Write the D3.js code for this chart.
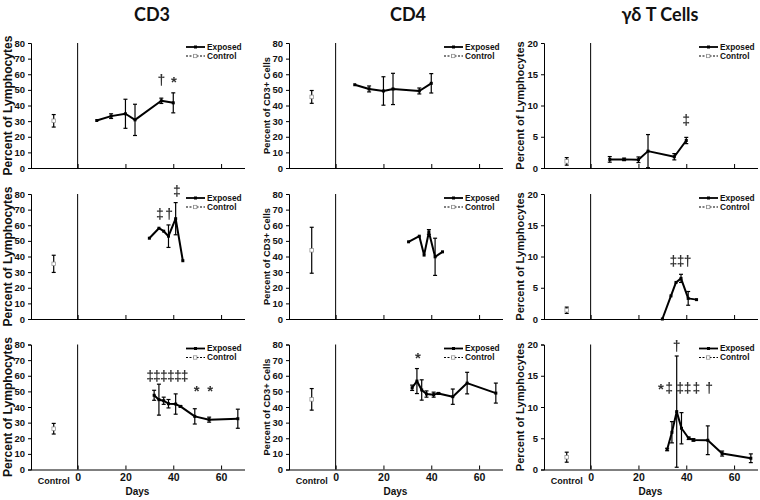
<!DOCTYPE html>
<html><head><meta charset="utf-8">
<script src="https://cdn.jsdelivr.net/npm/d3@7"></script>
<style>
html,body{margin:0;padding:0;background:#fff;}
svg text{font-family:"Liberation Sans",Arial,sans-serif;}
</style></head>
<body><svg id="c" width="760" height="500"></svg>
<script>
// ---------- DATA ----------
const columnTitles = ["CD3", "CD4", "γδ T Cells"];
const yLabels = ["Percent of Lymphocytes", "Percent of CD3+ Cells", "Percent of Lymphocytes"];
const yMaxes = [80, 80, 20];
const yTicksCD = [0, 10, 20, 30, 40, 50, 60, 70, 80];
const yTicksGD = [0, 5, 10, 15, 20];
const xTicks = [0, 20, 40, 60];
const xTickLabels = ["0", "20", "40", "60"];
const controlDay = -10;
const controlLabel = "Control";
const xAxisTitle = "Days";
const legendLabels = ["Exposed", "Control"];

// row 1
const r1Days = [8, 14, 20, 24, 35, 40];
const cd3r1Mean = [30.4, 33.2, 34.7, 30.8, 43.0, 41.7];
const cd3r1Err  = [0, 1.5, 9.3, 10, 1.7, 6.4];
const cd4r1Mean = [53.3, 50.6, 49.3, 50.6, 49.3, 54.2];
const cd4r1Err  = [0, 1.9, 9.1, 10, 1.9, 6.2];
const gdr1Mean  = [1.38, 1.38, 1.32, 2.7, 1.8, 4.4];
const gdr1Err   = [0.45, 0.2, 0.45, 2.65, 0.5, 0.5];
// row 2
const cd3r2Days = [30, 34, 36, 38, 41, 44];
const cd3r2Mean = [51.7, 58.1, 56.2, 53.0, 64.2, 37.3];
const cd3r2Err  = [0, 0, 0, 7.2, 10.3, 0];
const cd4r2Days = [30.5, 35, 37, 39, 41.6, 44.7];
const cd4r2Mean = [49.4, 53.0, 40.9, 55.7, 39.8, 43.0];
const cd4r2Err  = [0, 0, 0, 1.5, 11.9, 0];
const gdr2Days  = [30, 33.6, 35.7, 37.8, 40.8, 44.3];
const gdr2Mean  = [0, 3.7, 5.85, 6.5, 3.3, 3.1];
const gdr2Err   = [0, 0, 0, 0.65, 1.1, 0];
// row 3
const r3Days = [32, 34, 36, 38, 41, 43, 49, 55, 67];
const cd3r3Mean = [47.5, 44.7, 44.0, 42.1, 41.9, 40.4, 34.0, 31.9, 32.5];
const cd3r3Err  = [3.2, 9.9, 2.3, 2.7, 6.5, 0.5, 4.9, 1.6, 6.1];
const cd4r3Mean = [52.3, 56.6, 50.9, 48.3, 47.9, 48.7, 46.6, 55.3, 48.9];
const cd4r3Err  = [1.7, 8.0, 6.5, 2.0, 1.6, 0.5, 4.9, 6.9, 6.4];
const gdr3Mean  = [3.2, 5.96, 9.26, 6.6, 5.0, 4.73, 4.68, 2.55, 1.8];
const gdr3Err   = [0.2, 1.7, 8.9, 2.5, 0.2, 0.2, 2.3, 0.4, 0.7];
// controls [mean, err] per panel, row-major
const controlMeans = [30.2, 45.5, 1.06, 35.3, 44.0, 1.4, 26.1, 44.9, 1.97];
const controlErrs  = [4.0, 4.1, 0.6, 5.5, 14.7, 0.5, 3.4, 6.9, 0.8];
// significance marks: [day, value, symbol]
const marksA = [[35, 56, "†"], [40.3, 55.5, "*"]];
const marksB = [];
const marksC = [[40, 7.7, "‡"]];
const marksD = [[34.4, 67.4, "‡"], [38.3, 67.4, "†"], [41.5, 82, "‡"]];
const marksE = [];
const marksF = [[34.6, 9.3, "‡"], [37.6, 9.3, "‡"], [40.6, 9.3, "†"]];
const marksG = [[30.3, 59.9, "‡"], [33.2, 59.9, "‡"], [36.1, 59.9, "‡"], [39.0, 59.9, "‡"], [41.9, 59.9, "‡"], [44.8, 59.9, "‡"], [49.8, 50.5, "*"], [55.4, 50.5, "*"]];
const marksH = [[34.4, 71.7, "*"]];
const marksI = [[36, 19.8, "†"], [29.4, 13, "*"], [32.8, 13, "‡"], [37.4, 13, "‡"], [40.6, 13, "‡"], [44.2, 13, "‡"], [49.6, 13, "†"]];

// ---------- LAYOUT ----------
const svg = d3.select("#c");
const colLeft = [31, 289, 544];
const colWidth = 214;
const rowTop = [43, 194, 344.5];
const rowH = 125;
const xDomain = [-19.5, 70];
const yLabelX = [8, 266, 520];
const yLabelSize = [12.1, 9.3, 11.1];
const titleX = [152, 408, 660];

// grayscale filter for thin glyphs
const defs = svg.append("defs");
const flt = defs.append("filter").attr("id", "gray").attr("x", "-20%").attr("y", "-20%").attr("width", "140%").attr("height", "140%");
flt.append("feColorMatrix").attr("type", "saturate").attr("values", 0);

const panels = [
  {days: r1Days, mean: cd3r1Mean, err: cd3r1Err, marks: marksA},
  {days: r1Days, mean: cd4r1Mean, err: cd4r1Err, marks: marksB},
  {days: r1Days, mean: gdr1Mean, err: gdr1Err, marks: marksC},
  {days: cd3r2Days, mean: cd3r2Mean, err: cd3r2Err, marks: marksD},
  {days: cd4r2Days, mean: cd4r2Mean, err: cd4r2Err, marks: marksE},
  {days: gdr2Days, mean: gdr2Mean, err: gdr2Err, marks: marksF},
  {days: r3Days, mean: cd3r3Mean, err: cd3r3Err, marks: marksG},
  {days: r3Days, mean: cd4r3Mean, err: cd4r3Err, marks: marksH},
  {days: r3Days, mean: gdr3Mean, err: gdr3Err, marks: marksI}
];

// titles
columnTitles.forEach((t, i) => {
  svg.append("text").attr("x", titleX[i]).attr("y", 21).attr("text-anchor", "middle")
    .style("font-family", "Lato, 'Open Sans', sans-serif").style("font-weight", "bold")
    .style("font-size", "18px").style("fill", "#111").text(t);
});

panels.forEach((p, idx) => {
  const row = Math.floor(idx / 3), col = idx % 3;
  const L = colLeft[col], T = rowTop[row];
  const x = d3.scaleLinear().domain(xDomain).range([L, L + colWidth]);
  const y = d3.scaleLinear().domain([0, yMaxes[col]]).range([T + rowH, T]);
  const g = svg.append("g");

  // y axis
  const yAxis = d3.axisLeft(y).tickValues(col === 2 ? yTicksGD : yTicksCD).tickSize(3).tickPadding(3);
  const ya = g.append("g").attr("transform", `translate(${L},0)`).call(yAxis);
  ya.select(".domain").attr("stroke", "#000").attr("stroke-width", 1);
  ya.selectAll("text").style("font-size", "9.5px").style("font-weight", "bold").style("fill", "#111");

  // x axis
  const xAxis = d3.axisBottom(x).tickValues(xTicks).tickSize(-4).tickFormat((d, i) => row === 2 ? xTickLabels[i] : "");
  const xa = g.append("g").attr("transform", `translate(0,${T + rowH})`).call(xAxis);
  xa.select(".domain").attr("stroke", "#000").attr("d", `M${L},0.5H${L + colWidth}`);
  xa.selectAll("text").attr("dy", "8px").style("font-size", "10.5px").style("font-weight", "bold").style("fill", "#111");
  // day 0 divider
  g.append("line").attr("x1", x(0)).attr("x2", x(0)).attr("y1", y(yMaxes[col])).attr("y2", y(0))
    .attr("stroke", "#000").attr("stroke-width", 1);

  if (row === 2) {
    g.append("text").attr("x", x(controlDay)).attr("y", T + rowH + 14).attr("text-anchor", "middle")
      .style("font-size", "9px").style("font-weight", "bold").style("fill", "#111").text(controlLabel);
    g.append("text").attr("x", x(25)).attr("y", T + rowH + 25).attr("text-anchor", "middle")
      .style("font-size", "10px").style("font-weight", "bold").style("fill", "#111").text(xAxisTitle);
  }

  // y label
  g.append("text").attr("transform", `translate(${yLabelX[col] + 4},${T + rowH / 2}) rotate(-90)`)
    .attr("text-anchor", "middle").style("font-size", yLabelSize[col] + "px").style("font-weight", "bold")
    .style("fill", "#111").text(yLabels[col]);

  // control
  const cm = controlMeans[idx], ce = controlErrs[idx];
  const cx = x(controlDay);
  g.append("line").attr("x1", cx).attr("x2", cx).attr("y1", y(cm + ce)).attr("y2", y(cm - ce)).attr("stroke", "#000").attr("stroke-width", 1.2);
  [cm + ce, cm - ce].forEach(v => g.append("line").attr("x1", cx - 2).attr("x2", cx + 2).attr("y1", y(v)).attr("y2", y(v)).attr("stroke", "#000").attr("stroke-width", 1.2));
  g.append("rect").attr("x", cx - 1.8).attr("y", y(cm) - 1.8).attr("width", 3.6).attr("height", 3.6)
    .attr("fill", "#fff").attr("stroke", "#888").attr("stroke-width", 0.7);

  // error bars
  p.days.forEach((d, i) => {
    const e = p.err[i];
    if (e <= 0) return;
    const px = x(d);
    g.append("line").attr("x1", px).attr("x2", px).attr("y1", y(p.mean[i] + e)).attr("y2", y(p.mean[i] - e)).attr("stroke", "#000").attr("stroke-width", 1.2);
    [p.mean[i] + e, p.mean[i] - e].forEach(v => g.append("line").attr("x1", px - 2).attr("x2", px + 2).attr("y1", y(v)).attr("y2", y(v)).attr("stroke", "#000").attr("stroke-width", 1.2));
  });
  // exposed line
  const line = d3.line().x((d, i) => x(d)).y((d, i) => y(p.mean[i]));
  g.append("path").datum(p.days).attr("d", line).attr("fill", "none").attr("stroke", "#000").attr("stroke-width", 2).attr("stroke-linejoin", "round");
  p.days.forEach((d, i) => g.append("rect").attr("x", x(d) - 1.5).attr("y", y(p.mean[i]) - 1.5).attr("width", 3).attr("height", 3).attr("fill", "#000"));

  // marks
  const mg = g.append("g").attr("filter", "url(#gray)");
  p.marks.forEach(m => {
    mg.append("text").attr("x", x(m[0])).attr("y", y(m[1])).attr("dy", "0.35em").attr("text-anchor", "middle")
      .style("font-family", "'Liberation Sans', Arial, sans-serif").style("font-weight", "bold")
      .style("font-size", m[2] === "*" ? "15px" : "14px")
      .style("fill", "#333").text(m[2]);
  });

  // legend
  const lx = L + 155, ly = T + 4;
  g.append("line").attr("x1", lx).attr("x2", lx + 19).attr("y1", ly).attr("y2", ly).attr("stroke", "#000").attr("stroke-width", 1.8);
  g.append("rect").attr("x", lx + 8).attr("y", ly - 1.5).attr("width", 3).attr("height", 3).attr("fill", "#000");
  g.append("line").attr("x1", lx).attr("x2", lx + 19).attr("y1", ly + 9).attr("y2", ly + 9).attr("stroke", "#000").attr("stroke-width", 1.2).attr("stroke-dasharray", "2,1.5");
  g.append("rect").attr("x", lx + 7.5).attr("y", ly + 7.3).attr("width", 3.4).attr("height", 3.4).attr("fill", "#fff").attr("stroke", "#888").attr("stroke-width", 0.7);
  legendLabels.forEach((t, i) => g.append("text").attr("x", lx + 21).attr("y", ly + i * 9).attr("dy", "0.35em")
    .style("font-size", "8.3px").style("font-weight", "bold").style("fill", "#111").text(t));
});
</script></body></html>
